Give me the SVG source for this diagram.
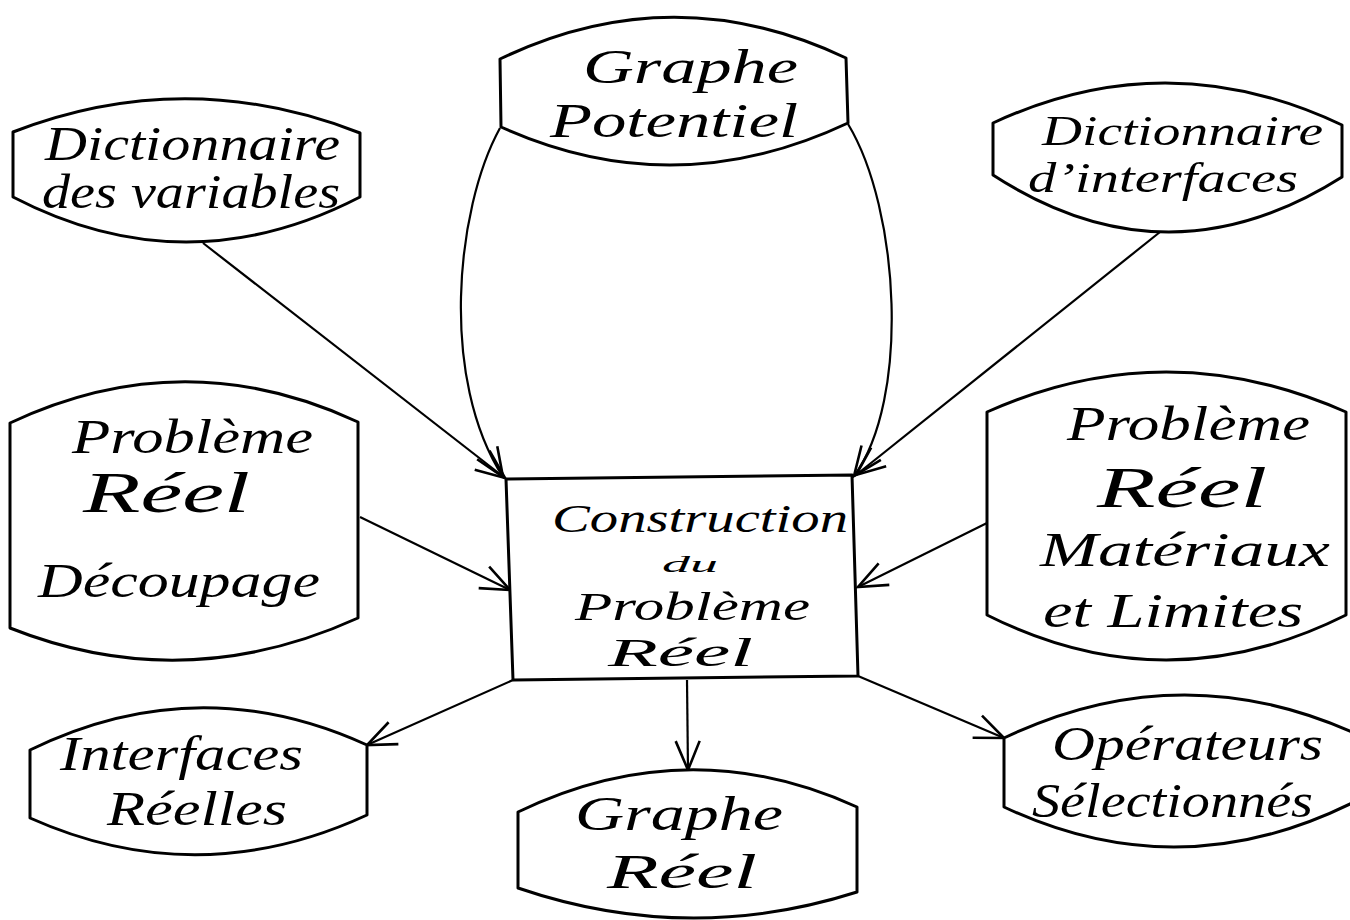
<svg xmlns="http://www.w3.org/2000/svg" width="1350" height="920" viewBox="0 0 1350 920">
<style>
  .shape { fill: #ffffff; stroke: #000000; stroke-width: 3; stroke-linejoin: round; }
  .conn { fill: none; stroke: #000000; stroke-width: 2.2; }
  .lbl { font-family: "Liberation Serif", "DejaVu Serif", serif; font-style: italic; font-size: 48px; fill: #000000; }
  .mid { font-size: 42px; }
  .box { font-size: 40px; }
  .big { font-size: 56px; }
  .small { font-size: 24px; }
</style>
<defs>
  <marker id="arr" markerUnits="userSpaceOnUse" markerWidth="34" markerHeight="30" viewBox="0 0 34 30" refX="32" refY="15" orient="auto">
    <path d="M3,3 L32,15 L3,27" fill="none" stroke="#000000" stroke-width="2.6" stroke-linejoin="miter"/>
  </marker>
</defs>
<rect x="0" y="0" width="1350" height="920" fill="#ffffff"/>

<g id="connectors">
  <path class="conn" d="M203,243 L505,478" marker-end="url(#arr)"/>
  <path class="conn" d="M1160,232 L856,475" marker-end="url(#arr)"/>
  <path class="conn" d="M500,128 C455,210 440,380 503,477" marker-end="url(#arr)"/>
  <path class="conn" d="M848,124 C900,210 910,400 854,476" marker-end="url(#arr)"/>
  <path class="conn" d="M360,517 L510,590" marker-end="url(#arr)"/>
  <path class="conn" d="M987,523 L858,587" marker-end="url(#arr)"/>
  <path class="conn" d="M513,680 L367,745" marker-end="url(#arr)"/>
  <path class="conn" d="M687,680 L688,770" marker-end="url(#arr)"/>
  <path class="conn" d="M858,676 L1004,738" marker-end="url(#arr)"/>
</g>

<g id="dict-variables">
  <path class="shape" d="M13,132 Q186,65 360,133 L360,197 Q186,287 13,197 Z"/>
  <text class="lbl" x="45" y="160" textLength="295" lengthAdjust="spacingAndGlyphs">Dictionnaire</text>
  <text class="lbl" x="42" y="208" textLength="298" lengthAdjust="spacingAndGlyphs">des variables</text>
</g>

<g id="graphe-potentiel">
  <path class="shape" d="M500,59 Q673,-24 846,58 L848,123 Q674,205 501,127 Z"/>
  <text class="lbl" x="583" y="83" textLength="215" lengthAdjust="spacingAndGlyphs">Graphe</text>
  <text class="lbl" x="550" y="137" textLength="248" lengthAdjust="spacingAndGlyphs">Potentiel</text>
</g>

<g id="dict-interfaces">
  <path class="shape" d="M993,123 Q1167,42 1342,125 L1342,177 Q1167,288 993,175 Z"/>
  <text class="lbl mid" x="1042" y="145" textLength="281" lengthAdjust="spacingAndGlyphs">Dictionnaire</text>
  <text class="lbl mid" x="1028" y="192" textLength="270" lengthAdjust="spacingAndGlyphs">d’interfaces</text>
</g>

<g id="probleme-decoupage">
  <path class="shape" d="M10,423 Q184,341 358,422 L358,618 Q184,697 10,628 Z"/>
  <text class="lbl" x="72" y="453" textLength="241" lengthAdjust="spacingAndGlyphs">Problème</text>
  <text class="lbl big" x="83" y="512" textLength="167" lengthAdjust="spacingAndGlyphs">Réel</text>
  <text class="lbl" x="38" y="597" textLength="282" lengthAdjust="spacingAndGlyphs">Découpage</text>
</g>

<g id="probleme-materiaux">
  <path class="shape" d="M987,412 Q1166,332 1346,412 L1346,615 Q1166,705 987,615 Z"/>
  <text class="lbl" x="1067" y="440" textLength="243" lengthAdjust="spacingAndGlyphs">Problème</text>
  <text class="lbl big" x="1097" y="507" textLength="170" lengthAdjust="spacingAndGlyphs">Réel</text>
  <text class="lbl" x="1040" y="566" textLength="290" lengthAdjust="spacingAndGlyphs">Matériaux</text>
  <text class="lbl" x="1043" y="627" textLength="260" lengthAdjust="spacingAndGlyphs">et Limites</text>
</g>

<g id="construction">
  <polygon class="shape" points="506,479 852,475 858,676 513,680"/>
  <text class="lbl box" x="552" y="532" textLength="296" lengthAdjust="spacingAndGlyphs">Construction</text>
  <text class="lbl small" x="662" y="572" textLength="56" lengthAdjust="spacingAndGlyphs">du</text>
  <text class="lbl box" x="575" y="620" textLength="235" lengthAdjust="spacingAndGlyphs">Problème</text>
  <text class="lbl box" x="608" y="666" textLength="145" lengthAdjust="spacingAndGlyphs">Réel</text>
</g>

<g id="interfaces-reelles">
  <path class="shape" d="M30,750 Q198,668 367,745 L367,815 Q198,893 30,818 Z"/>
  <text class="lbl" x="60" y="770" textLength="243" lengthAdjust="spacingAndGlyphs">Interfaces</text>
  <text class="lbl" x="107" y="825" textLength="180" lengthAdjust="spacingAndGlyphs">Réelles</text>
</g>

<g id="graphe-reel">
  <path class="shape" d="M518,812 Q688,730 857,807 L857,892 Q688,946 518,888 Z"/>
  <text class="lbl" x="575" y="830" textLength="208" lengthAdjust="spacingAndGlyphs">Graphe</text>
  <text class="lbl" x="607" y="888" textLength="150" lengthAdjust="spacingAndGlyphs">Réel</text>
</g>

<g id="operateurs">
  <path class="shape" d="M1004,738 Q1178,655 1352,732 L1352,803 Q1178,889 1004,807 Z"/>
  <text class="lbl" x="1052" y="760" textLength="271" lengthAdjust="spacingAndGlyphs">Opérateurs</text>
  <text class="lbl" x="1032" y="817" textLength="281" lengthAdjust="spacingAndGlyphs">Sélectionnés</text>
</g>
</svg>
